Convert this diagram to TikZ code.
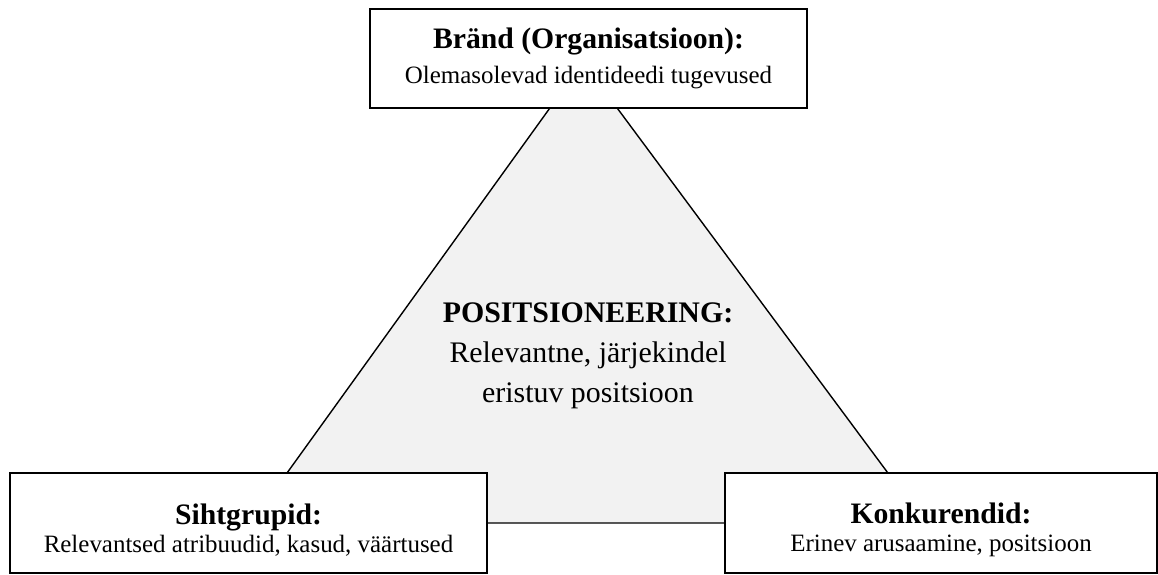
\documentclass[tikz,border=0pt]{standalone}
\usepackage{fontspec}
\setmainfont{Liberation Serif}
\usepackage{xcolor}
\usepackage{tikz}
\usetikzlibrary{positioning,backgrounds}
\definecolor{posgray}{HTML}{F2F2F2}

\begin{document}
\begin{tikzpicture}[x=0.02cm,y=-0.02cm,font=\fontsize{14.2}{16}\selectfont]
  \tikzstyle{pbox}=[draw,line width=1.1pt,fill=white,align=center,inner sep=0pt]
  \newcommand{\boxhead}[1]{{\fontsize{16.9}{18}\selectfont\bfseries #1}}
  \useasboundingbox (0,0) rectangle (1158,574);
  % triangle corners (apex sits under the top box)
  \coordinate (apex) at (583,62);
  \coordinate (tl) at (251,523);
  \coordinate (tr) at (925,523);
  \draw[fill=posgray,line width=0.8pt] (apex) -- (tl) -- (tr) -- cycle;
  % middle text
  \node[align=center,font=\fontsize{17}{22.8}\selectfont] (pos) at (588,356)
    {\textbf{POSITSIONEERING:}\\Relevantne, järjekindel\\eristuv positsioon};
  % the three corners
  \node[pbox,minimum width=8.74cm,minimum height=1.98cm] (brand) at (588.5,58.5)
    {\boxhead{Bränd (Organisatsioon):}\\[3.9pt]Olemasolevad identideedi tugevused};
  \node[pbox,minimum width=9.54cm,minimum height=2cm] (siht) at (248.5,523)
    {\boxhead{\rule{0pt}{19.5pt}Sihtgrupid:}\\Relevantsed atribuudid, kasud, väärtused};
  \node[pbox,minimum width=8.64cm,minimum height=2cm] (konk) at (941,523)
    {\boxhead{\rule{0pt}{19.5pt}Konkurendid:}\\Erinev arusaamine, positsioon};
\end{tikzpicture}
\end{document}
